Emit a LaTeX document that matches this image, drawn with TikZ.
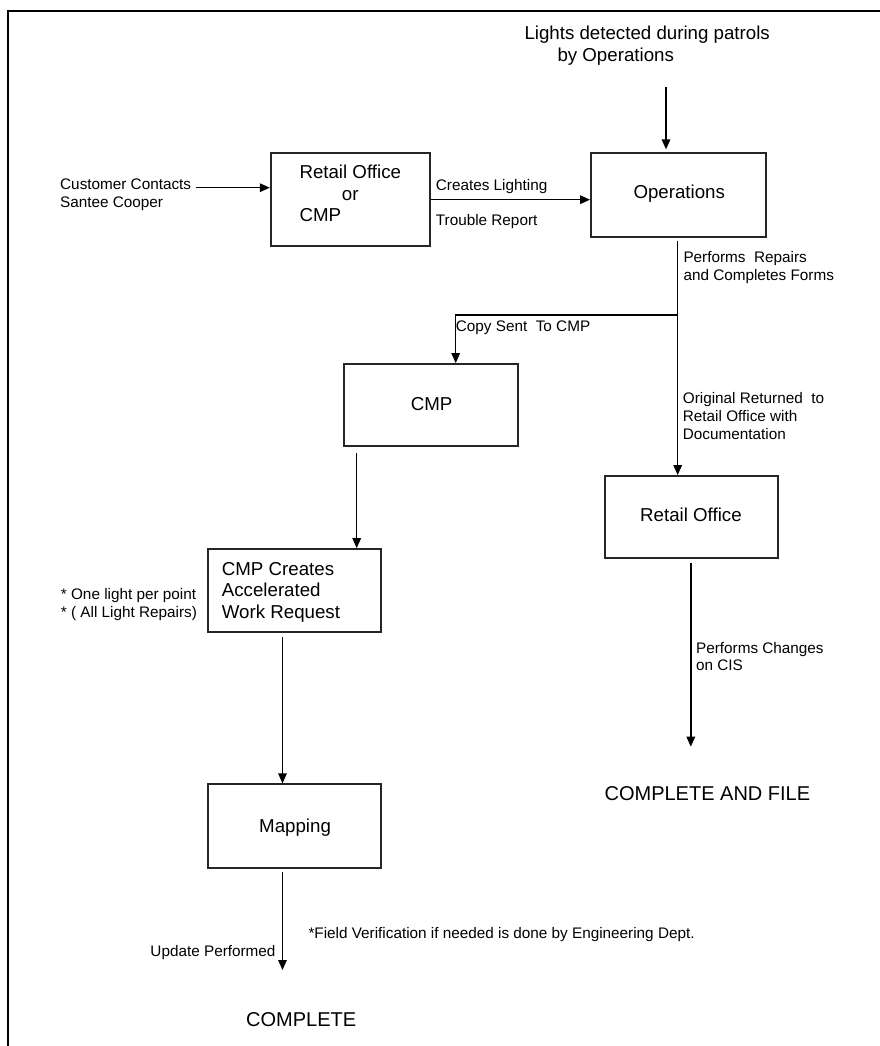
\documentclass[tikz,border=0pt]{standalone}
\usepackage{fontspec}
\setmainfont{Liberation Sans}
\usetikzlibrary{arrows.meta}
\newcommand\fbig{\fontsize{18.7pt}{21.7pt}\selectfont}
\newcommand\fsmall{\fontsize{15.3pt}{17.9pt}\selectfont}
\newcommand\fdone{\fontsize{20pt}{24pt}\selectfont}
\tikzset{
  box/.style={draw, line width=1.8pt, inner sep=0pt, draw=black!85},
  bigtxt/.style={font=\fbig, inner sep=0pt, anchor=base west, align=left},
  smalltxt/.style={font=\fsmall, inner sep=0pt, anchor=base west, align=left},
  donetxt/.style={font=\fdone, inner sep=0pt, anchor=base west},
  ln/.style={line width=1.5pt},
  arr/.style={line width=1.5pt, -{Triangle[length=10pt,width=8.5pt]}}
}
\begin{document}
\begin{tikzpicture}[x=1pt,y=-1pt]
\useasboundingbox (0,0) rectangle (880,1046);
% frame
\draw[line width=2.4pt, line join=miter] (8,1046) -- (8,11) -- (880,11);

% boxes
\node[box, minimum width=159.3pt, minimum height=92.7pt] (ret1) at (350.4,199.7) {};
\node[box, minimum width=174.7pt, minimum height=83.4pt] (ops) at (678.3,195) {};
\node[box, minimum width=174.3pt, minimum height=82pt] (cmp) at (431.2,405) {};
\node[box, minimum width=173pt, minimum height=81.7pt] (ret2) at (691.2,516.8) {};
\node[box, minimum width=173.3pt, minimum height=83pt] (cmpc) at (294.3,590.5) {};
\node[box, minimum width=173.3pt, minimum height=84pt] (map) at (294.3,826.3) {};

% box texts (multi-line nodes: base = baseline of last line)
\node[bigtxt] (ret1t) at (299.3,221.7) {Retail Office\\\hspace*{42.4pt}or\\CMP};
\node[bigtxt] (opst) at (633.3,198.3) {Operations};
\node[bigtxt] (cmpt) at (410.7,410.7) {CMP};
\node[bigtxt] (ret2t) at (640,521.7) {Retail Office};
\node[bigtxt, font=\fontsize{18.7pt}{21.5pt}\selectfont] (cmpct) at (221.7,618) {CMP Creates\\Accelerated\\Work Request};
\node[bigtxt] (mapt) at (259,832.7) {Mapping};

% free texts
\node[bigtxt] (lights) at (524.3,61.7) {Lights detected during patrols\\\hspace*{33pt}by Operations};
\node[donetxt] (done1) at (604.4,800) {COMPLETE AND FILE};
\node[donetxt] (done2) at (246,1026) {COMPLETE};

% labels
\node[smalltxt] (cust) at (60,207.7) {Customer Contacts\\Santee Cooper};
\node[smalltxt] (creates) at (435.7,190) {Creates Lighting};
\node[smalltxt] (trouble) at (435.7,225.7) {Trouble Report};
\node[smalltxt] (performs) at (683.3,280.5) {Performs\ \ Repairs\\and Completes Forms};
\node[smalltxt] (copy) at (455.7,331.7) {Copy Sent\ \ To CMP};
\node[smalltxt] (orig) at (682.7,439) {Original Returned\ \ to\\Retail Office with\\Documentation};
\node[smalltxt] (onelight) at (60.7,617) {* One light per point\\* ( All Light Repairs)};
\node[smalltxt, font=\fontsize{15.3pt}{16.7pt}\selectfont] (changes) at (695.9,670) {Performs Changes\\on CIS};
\node[smalltxt, anchor=base east] (update) at (275.7,956) {Update Performed};
\node[smalltxt] (field) at (308.3,938.3) {*Field Verification if needed is done by Engineering Dept.};

% coordinates
\coordinate (lightsfoot) at (666,87.3);
\coordinate (custend) at (195.7,187.7);
\coordinate (split) at (677.7,315);
\coordinate (cmpin) at (455.7,315);
\coordinate (cmpx) at (356.7,0);
\coordinate (cmpcx) at (282.5,0);
\coordinate (end1) at (690.8,746.7);
\coordinate (end2) at (282.5,970);

% connectors
\draw[arr, shorten >=3pt] (lightsfoot) -- (lightsfoot |- ops.north);
\draw[arr] (custend) -- (custend -| ret1.west);
\draw[arr] (ret1.east) -- (ret1.east -| ops.west);
\draw[ln, shorten <=3pt] (split |- ops.south) -- (split);
\draw[arr] (split) -- (split |- ret2.north);
\draw[arr] (split) -- (cmpin) -- (cmpin |- cmp.north);
\draw[arr, shorten <=6pt] (cmpx |- cmp.south) -- (cmpx |- cmpc.north);
\draw[arr, shorten <=4pt] (cmpcx |- cmpc.south) -- (cmpcx |- map.north);
\draw[arr, shorten <=3pt] (end2 |- map.south) -- (end2);
\draw[arr, shorten <=4pt] (end1 |- ret2.south) -- (end1);
\end{tikzpicture}
\end{document}
